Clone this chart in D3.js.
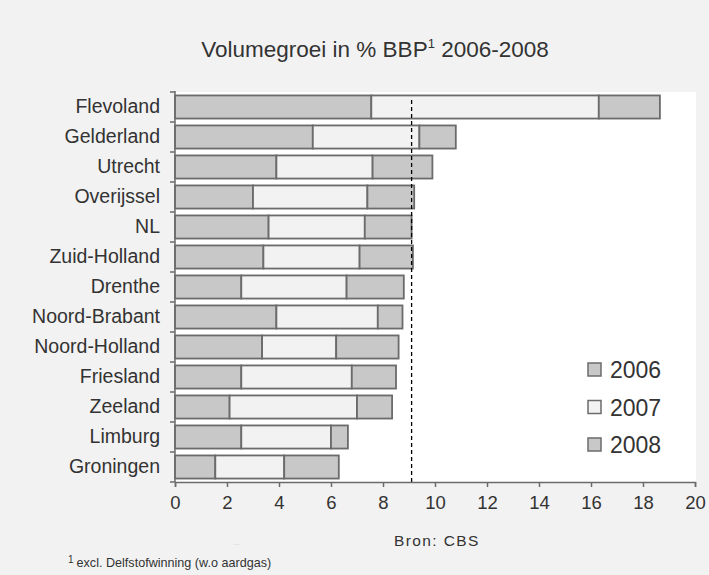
<!DOCTYPE html>
<html>
<head>
<meta charset="utf-8">
<script src="https://cdn.jsdelivr.net/npm/d3@7"></script>
<style>
  body { margin: 0; background: #f2f2f2; }
  svg { display: block; font-family: "Liberation Sans", Arial, sans-serif; }
</style>
</head>
<body>
<svg></svg>
<script>
// data
var regions = ["Flevoland", "Gelderland", "Utrecht", "Overijssel", "NL", "Zuid-Holland",
  "Drenthe", "Noord-Brabant", "Noord-Holland", "Friesland", "Zeeland", "Limburg", "Groningen"];
var years = ["2006", "2007", "2008"];
var growth2006 = [7.55, 5.3, 3.9, 3.0, 3.6, 3.4, 2.55, 3.9, 3.35, 2.55, 2.1, 2.55, 1.55];
var growth2007 = [8.75, 4.1, 3.7, 4.4, 3.7, 3.7, 4.05, 3.9, 2.85, 4.25, 4.9, 3.45, 2.65];
var growth2008 = [2.35, 1.4, 2.3, 1.8, 1.8, 2.05, 2.2, 0.95, 2.4, 1.7, 1.35, 0.65, 2.1];
var xTicks = [0, 2, 4, 6, 8, 10, 12, 14, 16, 18, 20];

var rows = regions.map(function(r, i) {
  return {region: r, "2006": growth2006[i], "2007": growth2007[i], "2008": growth2008[i]};
});
var nlRow = rows[regions.indexOf("NL")];
var nlTotal = nlRow["2006"] + nlRow["2007"] + nlRow["2008"];

var config = { w: 709, h: 575, left: 175, right: 695, top: 92, bottom: 482 };
var dark = "#333";
var edge = "#6b6b6b";

var scales = {};
scales.x = d3.scaleLinear().domain([0, 20]).range([config.left, config.right]);
scales.y = d3.scaleBand().domain(regions).range([config.top, config.bottom])
  .paddingInner(0.23).paddingOuter(0.115);
scales.fill = d3.scaleOrdinal().domain(years).range(["#c8c8c8", "#f2f2f2", "#c8c8c8"]);

var svg = d3.select("svg").attr("width", config.w).attr("height", config.h);

// plot area
svg.append("rect")
  .attr("x", config.left).attr("y", config.top)
  .attr("width", config.right - config.left + 1)
  .attr("height", config.bottom - config.top)
  .attr("fill", "#fff");

// title
var title = svg.append("text")
  .attr("x", 375).attr("y", 57)
  .attr("text-anchor", "middle")
  .attr("font-size", 22.5).attr("fill", dark);
title.append("tspan").text("Volumegroei in % BBP");
title.append("tspan").attr("dy", -9).attr("font-size", 13).text("1");
title.append("tspan").attr("dy", 9).text(" 2006-2008");

// stacked bars
var series = d3.stack().keys(years)(rows);
var layers = svg.append("g").selectAll("g")
  .data(series)
  .enter().append("g")
    .attr("fill", function(d) { return scales.fill(d.key); });

layers.selectAll("rect")
  .data(function(d) { return d; })
  .enter().append("rect")
    .attr("x", function(d) { return scales.x(d[0]); })
    .attr("y", function(d) { return scales.y(d.data.region); })
    .attr("width", function(d) { return scales.x(d[1]) - scales.x(d[0]); })
    .attr("height", scales.y.bandwidth())
    .attr("stroke", edge)
    .attr("stroke-width", 1.8);

// NL reference line
svg.append("line")
  .attr("x1", scales.x(nlTotal)).attr("x2", scales.x(nlTotal))
  .attr("y1", 100).attr("y2", config.bottom)
  .attr("stroke", "#000").attr("stroke-width", 1.3)
  .attr("stroke-dasharray", "4,3");

// x axis
var xAxis = svg.append("g")
  .attr("transform", "translate(0," + config.bottom + ")")
  .call(d3.axisBottom(scales.x).tickValues(xTicks).tickSize(5).tickSizeOuter(5).tickPadding(9));
xAxis.select(".domain").attr("stroke", edge).attr("stroke-width", 1.5);
xAxis.selectAll(".tick line").attr("stroke", edge).attr("stroke-width", 1.5);
xAxis.selectAll(".tick text")
  .attr("font-family", "Liberation Sans, Arial, sans-serif")
  .attr("font-size", 18.5).attr("fill", dark);

// y axis: labels, line and ticks at band boundaries
var yAxis = svg.append("g")
  .attr("transform", "translate(" + config.left + ",0)")
  .call(d3.axisLeft(scales.y).tickSize(0).tickPadding(15));
yAxis.select(".domain").remove();
yAxis.selectAll(".tick text")
  .attr("font-family", "Liberation Sans, Arial, sans-serif")
  .attr("font-size", 19.5).attr("fill", dark);

var step = scales.y.step();
var bounds = d3.range(regions.length + 1).map(function(i) { return config.top + i * step; });
svg.append("line")
  .attr("x1", config.left).attr("x2", config.left)
  .attr("y1", config.top - 1).attr("y2", config.bottom)
  .attr("stroke", edge).attr("stroke-width", 1.5);
svg.append("g").selectAll("line")
  .data(bounds)
  .enter().append("line")
    .attr("x1", config.left - 5).attr("x2", config.left)
    .attr("y1", function(d) { return d; }).attr("y2", function(d) { return d; })
    .attr("stroke", edge).attr("stroke-width", 1.5);

// legend
var leg = svg.append("g").attr("transform", "translate(588,363)");
var items = leg.selectAll("g")
  .data(years)
  .enter().append("g")
    .attr("transform", function(d, i) { return "translate(0," + (i * 37.5) + ")"; });
items.append("rect")
  .attr("width", 13).attr("height", 13)
  .attr("fill", function(d) { return scales.fill(d); })
  .attr("stroke", edge).attr("stroke-width", 1.5);
items.append("text")
  .attr("x", 22).attr("y", 15)
  .attr("font-size", 23).attr("fill", dark)
  .text(function(d) { return d; });

// source and footnote
svg.append("text")
  .attr("x", 394).attr("y", 546)
  .attr("font-size", 15.5).attr("letter-spacing", 1.4).attr("fill", dark)
  .text("Bron: CBS");
svg.append("text")
  .attr("x", 233).attr("y", 545)
  .attr("font-size", 8).attr("fill", "#c8c8c8")
  .text("...");
var foot = svg.append("text")
  .attr("x", 68).attr("y", 567)
  .attr("font-size", 12.6).attr("fill", dark);
foot.append("tspan").attr("font-size", 10).attr("dy", -4).text("1");
foot.append("tspan").attr("dy", 4).attr("dx", 3).text("excl. Delfstofwinning (w.o aardgas)");
</script>
</body>
</html>
